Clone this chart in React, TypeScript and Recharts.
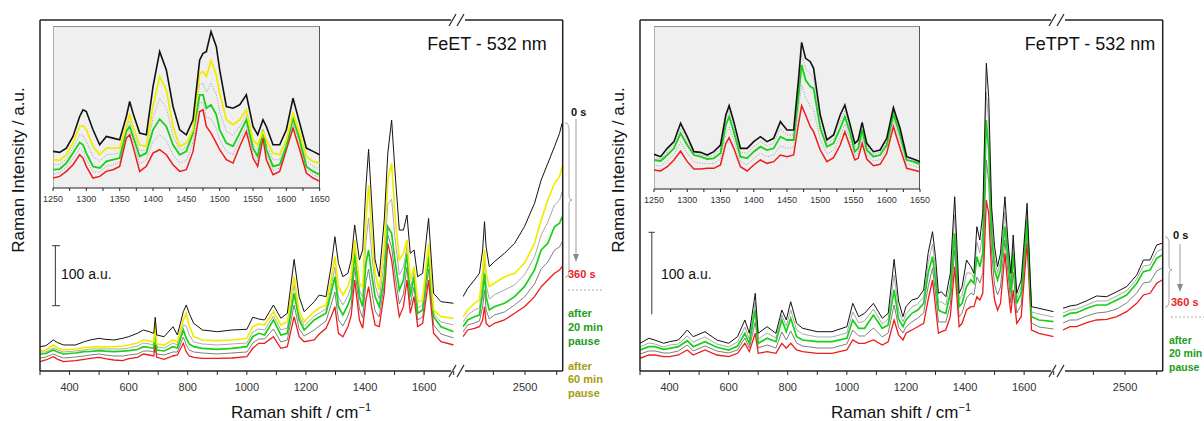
import React from 'react';
import { LineChart, Line, XAxis, YAxis, ReferenceLine } from 'recharts';

const FONT = '"Liberation Sans", Arial, Helvetica, sans-serif';

// ---- FeET, 300-1700 cm-1 (intensity in plot units, 100 a.u. = 60) ----
const feetLowX = [300, 320, 345, 360, 380, 420, 450, 470, 500, 520, 550, 580, 600, 630, 650, 670, 685, 690, 695, 720, 750, 765, 785, 795, 805, 820, 850, 900, 950, 1000, 1020, 1040, 1060, 1090, 1115, 1137, 1160, 1177, 1194, 1228, 1245, 1268, 1285, 1298, 1310, 1325, 1342, 1353, 1365, 1381, 1392, 1403, 1412, 1422, 1434, 1448, 1465, 1477, 1490, 1501, 1516, 1530, 1542, 1553, 1566, 1578, 1595, 1615, 1632, 1657, 1700];
const feetLowBlack = [24.3, 25.3, 31, 28.3, 26, 26, 29.3, 31, 32.7, 31.7, 31, 32.7, 34.3, 37.7, 41, 39.3, 37.7, 53.7, 36, 34.3, 44.3, 36, 59.3, 66, 57.7, 47.7, 41, 39.3, 41, 41.7, 53.7, 52, 51, 66, 52.7, 57.7, 111.7, 74.3, 59.3, 69.3, 76, 74.3, 104.3, 134.3, 107.7, 94.3, 97.7, 111, 146, 111, 121, 184.3, 221.7, 171, 111, 94.3, 151, 217.7, 251, 201, 141, 141, 156, 117.7, 121, 94.3, 97.7, 152.7, 77.7, 69.3, 67.7];
const feetLowYellow = [20.3, 21, 26, 23, 21, 22, 23.3, 24, 24.3, 24, 24.3, 25, 26, 28, 31, 30, 29.3, 47.7, 27, 26, 31, 29, 51, 57.7, 45, 34.3, 31, 30.3, 31, 32.7, 44.3, 47, 46, 59.3, 46, 49.3, 94.3, 59.3, 49.3, 59.3, 63, 66, 91, 114.3, 84.3, 76, 84.3, 95, 131, 87.7, 84.3, 151, 186, 141, 97.7, 81, 124.3, 191, 207.7, 157.7, 111, 117.7, 131, 91, 104.3, 69.3, 71, 127.7, 61, 54.3, 52.7];
const feetLowGreen = [17, 17.5, 21, 19, 17, 18, 19.3, 19.5, 20.3, 19.8, 19.3, 19.8, 20.3, 21.5, 24.3, 23.5, 22.7, 41, 21, 20, 24.3, 23, 41, 32.7, 27, 24.3, 22.7, 21.7, 22.7, 24.3, 34.3, 37.7, 36, 51, 36, 37.7, 77.7, 51, 41, 51, 54, 57.7, 77.7, 94.3, 64.3, 56, 66, 75, 117.7, 74.3, 64.3, 107.7, 121, 97.7, 74.3, 64.3, 94.3, 144.3, 137.7, 111, 81, 91, 117.7, 74.3, 94.3, 57.7, 61, 114.3, 54.3, 44.3, 39.3];
const feetLowRed = [9.3, 11, 14.3, 11.7, 9.3, 10.3, 11.7, 12.7, 13.7, 12.3, 11, 10.3, 12.3, 13.7, 17, 16, 15, 26, 13.7, 11.7, 15, 16, 27.7, 19.3, 15, 13.7, 12.7, 12.7, 13, 14.3, 22.7, 27.7, 27.7, 34.3, 22.7, 24.3, 54.3, 34.3, 29.3, 31, 37, 42.7, 54.3, 64.3, 37.7, 34.3, 44.3, 55, 91, 51, 42.7, 71, 84.3, 64.3, 46, 44.3, 77.7, 127.7, 111, 84.3, 54.3, 64.3, 91, 57.7, 74.3, 44.3, 47.7, 91, 37.7, 29.3, 26];
const feetLowGray1 = [19, 19, 23, 21, 19, 20, 21, 22, 22, 22, 22, 22, 23, 25, 28, 27, 26, 44, 24, 23, 28, 26, 46, 45, 36, 29, 27, 26, 27, 28, 39, 42, 41, 55, 41, 43, 86, 55, 45, 55, 58, 62, 84, 104, 74, 66, 75, 85, 124, 81, 74, 129, 153, 119, 86, 72, 109, 167, 172, 134, 96, 104, 124, 82, 99, 63, 66, 121, 57, 49, 46];
const feetLowGray2 = [13, 14, 17, 15, 13, 14, 15, 16, 17, 16, 15, 15, 16, 17, 20, 20, 19, 33, 17, 16, 19, 19, 34, 26, 21, 19, 18, 17, 18, 19, 28, 32, 32, 42, 29, 31, 66, 42, 35, 41, 45, 50, 66, 79, 51, 45, 55, 65, 104, 62, 53, 89, 102, 81, 60, 54, 86, 136, 124, 97, 67, 77, 104, 66, 84, 51, 54, 102, 46, 37, 33];

// ---- FeET, high wavenumber part ----
const feetHighX = [2304, 2319, 2340, 2356, 2366, 2372, 2377, 2387, 2403, 2435, 2467, 2498, 2530, 2551, 2572, 2593, 2609, 2617];
const feetHighBlack = [74.3, 82.7, 91, 97.7, 121, 149.3, 124.3, 104.3, 109.3, 117.7, 127.7, 144.3, 167.7, 191, 207.7, 224.3, 237.7, 247.7];
const feetHighYellow = [54.3, 61, 67.7, 71, 101, 121, 97.7, 84.3, 87.7, 94.3, 97.7, 107.7, 127.7, 151, 171, 187.7, 194.3, 204.3];
const feetHighGreen = [44.3, 51, 54.3, 56, 77.7, 97.7, 74.3, 61, 64.3, 67.7, 74.3, 84.3, 101, 121, 127.7, 144.3, 147.7, 154.3];
const feetHighRed = [34.3, 41, 42.7, 44.3, 51, 64.3, 47.7, 44.3, 47.7, 51, 57.7, 64.3, 74.3, 84.3, 91, 97.7, 101, 104.3];
const feetHighGray1 = [49, 56, 61, 63, 89, 109, 86, 72, 76, 81, 86, 96, 114, 136, 149, 166, 171, 179];
const feetHighGray2 = [39, 46, 48, 50, 64, 81, 61, 52, 56, 59, 66, 74, 87, 102, 109, 121, 124, 129];

// ---- FeET inset, 1250-1650 ----
const feetInsetX = [1250, 1260, 1270, 1280, 1290, 1295, 1300, 1310, 1320, 1330, 1340, 1350, 1360, 1365, 1370, 1380, 1390, 1400, 1410, 1420, 1430, 1440, 1450, 1460, 1470, 1475, 1480, 1487, 1495, 1500, 1510, 1520, 1530, 1540, 1550, 1557, 1565, 1570, 1580, 1590, 1600, 1610, 1620, 1630, 1640, 1650];
const feetInsetBlack = [110, 107, 120, 155, 215, 235, 230, 175, 130, 155, 150, 145, 215, 260, 225, 165, 160, 305, 410, 355, 245, 175, 160, 205, 385, 405, 410, 470, 425, 355, 245, 240, 250, 280, 185, 160, 205, 185, 130, 130, 175, 270, 195, 120, 110, 100];
const feetInsetYellow = [85, 83, 100, 135, 185, 187, 175, 125, 100, 120, 120, 120, 185, 220, 185, 130, 125, 245, 335, 295, 185, 125, 135, 175, 345, 350, 335, 383, 340, 285, 205, 190, 205, 235, 145, 130, 170, 145, 105, 100, 145, 225, 165, 95, 80, 75];
const feetInsetGreen = [55, 57, 75, 105, 137, 130, 105, 65, 60, 80, 85, 90, 170, 185, 155, 95, 105, 175, 207, 185, 130, 100, 110, 165, 280, 280, 240, 250, 220, 175, 135, 125, 165, 205, 120, 95, 175, 115, 65, 70, 125, 210, 145, 65, 50, 40];
const feetInsetRed = [30, 35, 50, 70, 100, 90, 65, 30, 35, 50, 55, 65, 150, 160, 125, 50, 65, 105, 115, 100, 70, 50, 55, 110, 230, 235, 185, 165, 135, 115, 85, 75, 125, 170, 90, 65, 150, 85, 40, 50, 115, 180, 115, 45, 30, 20];
const feetInsetGray1 = [70, 70, 88, 120, 160, 158, 140, 95, 80, 100, 102, 105, 178, 202, 170, 112, 115, 210, 270, 240, 158, 112, 122, 170, 312, 315, 288, 316, 280, 230, 170, 158, 185, 220, 132, 112, 172, 130, 85, 85, 135, 218, 155, 80, 65, 58];
const feetInsetGray2 = [42, 46, 62, 88, 118, 110, 85, 48, 48, 65, 70, 78, 160, 172, 140, 72, 85, 140, 160, 142, 100, 75, 82, 138, 255, 258, 212, 208, 178, 145, 110, 100, 145, 188, 105, 80, 162, 100, 52, 60, 120, 195, 130, 55, 40, 30];

// ---- FeTPT, 300-1700 cm-1 (100 a.u. = 82) ----
const fetptLowX = [300, 330, 350, 380, 400, 430, 460, 480, 520, 560, 600, 630, 655, 670, 690, 700, 730, 760, 780, 795, 810, 830, 850, 900, 950, 1000, 1020, 1040, 1060, 1090, 1120, 1140, 1160, 1175, 1190, 1200, 1220, 1240, 1260, 1275, 1290, 1300, 1310, 1320, 1335, 1350, 1365, 1380, 1390, 1405, 1420, 1430, 1440, 1450, 1460, 1472, 1480, 1490, 1500, 1510, 1520, 1535, 1545, 1555, 1563, 1575, 1590, 1610, 1625, 1650, 1700];
const fetptLowBlack = [27.7, 32.7, 31, 27.7, 29.3, 31, 41, 34.3, 39.3, 31, 27.7, 34.3, 51, 37.7, 77.7, 37.7, 44.3, 37.7, 61, 51, 69.3, 47.7, 42.7, 39.3, 39.3, 44.3, 67.7, 54.3, 57.7, 67.7, 52.7, 57.7, 111.7, 70, 54.3, 64.3, 71, 72.7, 81, 117.7, 139.3, 114.3, 77.7, 79.3, 74.3, 97.7, 174.3, 77.7, 84.3, 111, 104.3, 97.7, 144.3, 131, 157.7, 307.7, 274.3, 164.3, 124.3, 104.3, 117.7, 174.3, 131, 97.7, 136, 77.7, 91, 167.7, 64.3, 62.7, 59.3];
const fetptLowGreen = [21, 24.3, 24.3, 21.7, 22.7, 24.3, 30.3, 24.3, 29.3, 23.7, 21, 25, 37.7, 27.7, 61, 27.7, 32.7, 29.3, 51, 39.3, 52.7, 34.3, 31, 29.3, 29.3, 32.7, 51, 42.7, 42.7, 56, 42.7, 46, 81, 52, 44.3, 51, 57.7, 61, 67.7, 97.7, 114.3, 91, 61, 59.3, 57.7, 77.7, 137.7, 64.3, 67.7, 84.3, 91, 87.7, 114.3, 104.3, 117.7, 251, 221, 137.7, 101, 91, 101, 144.3, 114.3, 77.7, 117.7, 67.7, 77.7, 151, 54.3, 51, 49.3];
const fetptLowRed = [12.7, 16, 16, 14.3, 14.3, 16, 21, 16, 21, 16, 14.3, 17.7, 27.7, 19.3, 37.7, 17.7, 19.3, 17.7, 27.7, 22.7, 27.7, 21, 19.3, 17.7, 17.7, 21, 31, 27.7, 27.7, 31, 26, 29.3, 51, 36, 31, 37.7, 41, 44.3, 47.7, 71, 91, 64.3, 37.7, 39.3, 41, 54.3, 104.3, 44.3, 47.7, 61, 64.3, 64.3, 74.3, 71, 77.7, 171, 157.7, 97.7, 71, 61, 67.7, 117.7, 84.3, 57.7, 81, 47.7, 54.3, 127.7, 41, 37.7, 34.3];
const fetptLowGray1 = [24, 28, 27, 24, 26, 27, 35, 29, 34, 27, 24, 29, 44, 32, 69, 32, 38, 33, 56, 45, 61, 41, 37, 34, 34, 38, 59, 48, 50, 62, 47, 52, 96, 61, 49, 57, 64, 67, 74, 108, 127, 102, 69, 69, 66, 88, 156, 71, 76, 98, 98, 93, 129, 118, 138, 279, 248, 151, 113, 98, 109, 159, 123, 88, 127, 73, 84, 159, 59, 57, 54];
const fetptLowGray2 = [17, 20, 20, 18, 18, 20, 26, 20, 25, 20, 18, 21, 33, 23, 49, 23, 26, 23, 39, 31, 40, 28, 25, 23, 23, 27, 41, 35, 35, 43, 34, 38, 66, 44, 38, 44, 49, 53, 58, 84, 103, 78, 49, 49, 49, 66, 121, 54, 58, 73, 78, 76, 94, 88, 98, 211, 189, 118, 86, 76, 84, 131, 99, 68, 99, 58, 66, 139, 48, 44, 42];

// ---- FeTPT, high wavenumber part ----
const fetptHighX = [2304, 2326, 2347, 2379, 2410, 2442, 2474, 2505, 2537, 2558, 2579, 2600, 2617];
const fetptHighBlack = [62.7, 65, 66, 70.3, 75, 74.3, 79.3, 84.3, 96, 111, 111, 126, 127.7];
const fetptHighGreen = [54.3, 57.7, 58.3, 62.7, 66, 66, 71, 76, 87.7, 99.3, 101, 112.7, 116];
const fetptHighRed = [41, 44.3, 44.3, 48.3, 51, 51.7, 54.3, 59.3, 67.7, 76, 77.7, 87.7, 91];
const fetptHighGray1 = [58, 61, 62, 66, 70, 70, 75, 80, 92, 105, 106, 119, 122];
const fetptHighGray2 = [48, 51, 51, 55, 58, 59, 62, 68, 78, 88, 89, 100, 103];

// ---- FeTPT inset ----
const fetptInsetX = [1250, 1260, 1270, 1280, 1290, 1300, 1310, 1320, 1330, 1340, 1350, 1358, 1363, 1370, 1380, 1390, 1400, 1410, 1420, 1430, 1440, 1450, 1460, 1467, 1472, 1478, 1485, 1490, 1500, 1510, 1520, 1530, 1537, 1545, 1552, 1557, 1563, 1570, 1580, 1590, 1600, 1610, 1620, 1630, 1640, 1650];
const fetptInsetBlack = [104, 97, 122, 142, 197, 157, 112, 110, 102, 112, 132, 222, 250, 202, 122, 122, 142, 157, 142, 152, 202, 177, 177, 322, 440, 392, 382, 362, 222, 147, 162, 222, 252, 192, 137, 147, 200, 137, 112, 117, 152, 244, 182, 97, 90, 82];
const fetptInsetGreen = [87, 84, 102, 122, 167, 132, 102, 97, 90, 92, 107, 192, 217, 172, 97, 92, 112, 127, 117, 122, 157, 147, 147, 272, 372, 327, 307, 302, 182, 127, 137, 182, 217, 167, 112, 122, 177, 117, 97, 102, 132, 224, 162, 87, 82, 74];
const fetptInsetRed = [57, 54, 67, 87, 114, 82, 60, 60, 62, 62, 72, 137, 154, 122, 67, 54, 72, 87, 77, 82, 102, 97, 102, 192, 250, 222, 187, 172, 117, 82, 94, 132, 172, 127, 87, 92, 137, 90, 70, 74, 107, 187, 122, 62, 57, 52];
const fetptInsetGray1 = [95, 90, 112, 132, 182, 145, 107, 103, 96, 102, 120, 207, 233, 187, 110, 107, 127, 142, 130, 137, 180, 162, 162, 297, 406, 360, 345, 332, 202, 137, 150, 202, 235, 180, 125, 135, 188, 127, 105, 110, 142, 234, 172, 92, 86, 78];
const fetptInsetGray2 = [72, 69, 84, 104, 140, 107, 81, 78, 76, 77, 90, 165, 185, 147, 82, 73, 92, 107, 97, 102, 130, 122, 125, 232, 311, 275, 247, 237, 150, 105, 116, 157, 195, 147, 100, 107, 157, 104, 84, 88, 120, 206, 142, 75, 70, 63];

const lowTicks = [300, 400, 500, 600, 700, 800, 900, 1000, 1100, 1200, 1300, 1400, 1500, 1600, 1700];
const lowLabels = [400, 600, 800, 1000, 1200, 1400, 1600];
const highTicks = [2400, 2500, 2600];
const highLabels = [2500];
const insetTicks = [1250, 1275, 1300, 1325, 1350, 1375, 1400, 1425, 1450, 1475, 1500, 1525, 1550, 1575, 1600, 1625, 1650];
const insetLabels = [1250, 1300, 1350, 1400, 1450, 1500, 1550, 1600, 1650];

function table(x: number[], cols: Record<string, number[]>) {
  return x.map((w, i) => {
    const row: any = { w };
    Object.keys(cols).forEach((k) => (row[k] = cols[k][i]));
    return row;
  });
}

const feetLow = table(feetLowX, { g1: feetLowGray1, g2: feetLowGray2, red: feetLowRed, green: feetLowGreen, yellow: feetLowYellow, black: feetLowBlack });
const feetHigh = table(feetHighX, { g1: feetHighGray1, g2: feetHighGray2, red: feetHighRed, green: feetHighGreen, yellow: feetHighYellow, black: feetHighBlack });
const feetInset = table(feetInsetX, { g1: feetInsetGray1, g2: feetInsetGray2, red: feetInsetRed, green: feetInsetGreen, yellow: feetInsetYellow, black: feetInsetBlack });
const fetptLow = table(fetptLowX, { g1: fetptLowGray1, g2: fetptLowGray2, red: fetptLowRed, green: fetptLowGreen, black: fetptLowBlack });
const fetptHigh = table(fetptHighX, { g1: fetptHighGray1, g2: fetptHighGray2, red: fetptHighRed, green: fetptHighGreen, black: fetptHighBlack });
const fetptInset = table(fetptInsetX, { g1: fetptInsetGray1, g2: fetptInsetGray2, red: fetptInsetRed, green: fetptInsetGreen, black: fetptInsetBlack });

const mainStyles = [
  { key: 'g1', color: '#a8a8a8', width: 1, dash: undefined },
  { key: 'g2', color: '#7c7c7c', width: 1, dash: undefined },
  { key: 'red', color: '#ee1c1c', width: 1.3, dash: undefined },
  { key: 'green', color: '#18d018', width: 1.7, dash: undefined },
  { key: 'yellow', color: '#f0ec00', width: 1.7, dash: undefined },
  { key: 'black', color: '#111111', width: 1, dash: undefined },
];
const insetStyles = [
  { key: 'g1', color: '#8a8a8a', width: 0.8, dash: '1 1.5' },
  { key: 'g2', color: '#8a8a8a', width: 0.8, dash: '1 1.5' },
  { key: 'red', color: '#ee1c1c', width: 1.5, dash: undefined },
  { key: 'green', color: '#18d018', width: 1.8, dash: undefined },
  { key: 'yellow', color: '#f0ec00', width: 1.8, dash: undefined },
  { key: 'black', color: '#111111', width: 1.6, dash: undefined },
];

function Part({ left, top, width, height, data, domain, yMax, ticks, labels, styles, inset, children }: any) {
  const axisH = inset ? 20 : 30;
  return (
    <div style={{ position: 'absolute', left, top, width, height: height + axisH }}>
      <LineChart width={width} height={height + axisH} data={data} margin={{ top: 0, right: 0, bottom: 0, left: 0 }}>
        <XAxis
          dataKey="w"
          type="number"
          domain={domain}
          allowDataOverflow
          ticks={ticks}
          interval={0}
          tickFormatter={(v: number) => (labels.includes(v) ? String(v) : '')}
          axisLine={inset ? { stroke: '#222' } : false}
          stroke="#222"
          tickSize={inset ? 3 : 4}
          tickMargin={inset ? 5 : 8}
          height={axisH}
          tick={{ fontSize: inset ? 9 : 11, fill: '#333', fontFamily: FONT }}
        />
        <YAxis hide type="number" domain={[0, yMax]} allowDataOverflow />
        {styles
          .filter((s: any) => s.key in data[0])
          .map((s: any) => (
            <Line
              key={s.key}
              type="linear"
              dataKey={s.key}
              stroke={s.color}
              strokeWidth={s.width}
              strokeDasharray={s.dash}
              dot={false}
              isAnimationActive={false}
            />
          ))}
        {children}
      </LineChart>
    </div>
  );
}

function Frame({ dx }: { dx: number }) {
  const l = 40 + dx, r = 562.7 + dx, t = 20, b = 371;
  const g0 = 451 + dx, g1 = 465 + dx;
  const slashes = (y: number) => (
    <g stroke="#222" strokeWidth={1.2}>
      <line x1={g0 - 2} y1={y + 6} x2={g0 + 5} y2={y - 6} />
      <line x1={g0 + 6} y1={y + 6} x2={g0 + 13} y2={y - 6} />
    </g>
  );
  return (
    <g>
      <g stroke="#222" strokeWidth={1.5} fill="none">
        <line x1={l} y1={t} x2={l} y2={b} />
        <line x1={r} y1={t} x2={r} y2={b} />
        <line x1={l} y1={t} x2={g0} y2={t} />
        <line x1={g1} y1={t} x2={r} y2={t} />
        <line x1={l} y1={b} x2={g0} y2={b} />
        <line x1={g1} y1={b} x2={r} y2={b} />
      </g>
      {slashes(t)}
      {slashes(b)}
      <text transform={`translate(${18 + dx},170) rotate(-90)`} textAnchor="middle" dominantBaseline="central" fontSize={17} fill="#111">
        Raman Intensity / a.u.
      </text>
      <text x={301 + dx} y={418} textAnchor="middle" fontSize={17} fill="#111">
        Raman shift / cm<tspan fontSize={11} dy={-7}>−1</tspan>
      </text>
      <text x={61 + dx} y={279} fontSize={14} fill="#111">100 a.u.</text>
    </g>
  );
}

function Brace({ x, y0, y1, ym }: { x: number; y0: number; y1: number; ym: number }) {
  const d = `M${x},${y0} Q${x + 4},${y0} ${x + 4},${y0 + 6} L${x + 4},${ym - 5} Q${x + 4},${ym} ${x + 7},${ym} Q${x + 4},${ym} ${x + 4},${ym + 5} L${x + 4},${y1 - 6} Q${x + 4},${y1} ${x},${y1}`;
  return <path d={d} fill="none" stroke="#9a9a9a" strokeWidth={0.9} />;
}

function Arrow({ x, y0, y1 }: { x: number; y0: number; y1: number }) {
  return (
    <g>
      <line x1={x} y1={y0} x2={x} y2={y1 - 6} stroke="#9a9a9a" strokeWidth={1} />
      <polygon points={`${x - 3},${y1 - 8} ${x + 3},${y1 - 8} ${x},${y1}`} fill="#8a8a8a" />
    </g>
  );
}

const RED = '#e8232a';
const GREEN = '#1c9c1c';
const OLIVE = '#a39c12';

function Decor() {
  const b = { fontSize: 11, fontWeight: 700 } as const;
  const bs = { fontSize: 10.5, fontWeight: 700 } as const;
  return (
    <svg width={1204} height={421} style={{ position: 'absolute', left: 0, top: 0, pointerEvents: 'none', fontFamily: FONT }}>
      <Frame dx={0} />
      <Frame dx={600} />
      <text x={487} y={50} textAnchor="middle" fontSize={18} fill="#111">FeET - 532 nm</text>
      <text x={1090} y={50} textAnchor="middle" fontSize={18} fill="#111">FeTPT - 532 nm</text>

      <Brace x={565} y0={123} y1={277} ym={200} />
      <Arrow x={576} y0={119} y1={262} />
      <text x={571} y={116} {...b} fill="#111">0 s</text>
      <text x={568} y={278} {...b} fill={RED}>360 s</text>
      <line x1={568} y1={290} x2={602} y2={290} stroke="#aaa" strokeDasharray="2 2" />
      <text x={568} y={317} {...b} fill={GREEN}>after</text>
      <text x={568} y={331} {...b} fill={GREEN}>20 min</text>
      <text x={568} y={345} {...b} fill={GREEN}>pause</text>
      <text x={568} y={370} {...b} fill={OLIVE}>after</text>
      <text x={568} y={383} {...b} fill={OLIVE}>60 min</text>
      <text x={568} y={397} {...b} fill={OLIVE}>pause</text>

      <Brace x={1165} y0={237} y1={307} ym={270} />
      <Arrow x={1180} y0={244} y1={292} />
      <text x={1173} y={239} {...b} fill="#111">0 s</text>
      <text x={1171} y={306} {...b} fill={RED}>360 s</text>
      <line x1={1171} y1={317} x2={1204} y2={317} stroke="#aaa" strokeDasharray="2 2" />
      <text x={1169} y={344} {...bs} fill={GREEN}>after</text>
      <text x={1169} y={357} {...bs} fill={GREEN}>20 min</text>
      <text x={1169} y={371} {...bs} fill={GREEN}>pause</text>
    </svg>
  );
}

function ScaleBar({ x, y, len, tickL, tickR, bottomTick }: any) {
  return (
    <>
      <ReferenceLine segment={[{ x, y }, { x, y: y + len }]} stroke="#333" strokeWidth={1} ifOverflow="visible" />
      <ReferenceLine segment={[{ x: tickL, y: y + len }, { x: tickR, y: y + len }]} stroke="#333" strokeWidth={1} ifOverflow="visible" />
      {bottomTick && (
        <ReferenceLine segment={[{ x: tickL, y }, { x: tickR, y }]} stroke="#333" strokeWidth={1} ifOverflow="visible" />
      )}
    </>
  );
}

function InsetBox({ left, top, width, height }: any) {
  return (
    <div
      style={{
        position: 'absolute',
        left,
        top,
        width,
        height,
        boxSizing: 'border-box',
        background: '#efefef',
        borderTop: '1px solid #8a8a8a',
        borderLeft: '1px solid #b0b0b0',
        borderRight: '1px solid #555',
      }}
    />
  );
}

export default function App() {
  return (
    <div style={{ position: 'absolute', left: 0, top: 0, width: 1204, height: 421, background: '#fff', fontFamily: FONT, overflow: 'hidden' }}>
      <style>{'.recharts-surface{overflow:visible}'}</style>

      {/* FeET */}
      <Part left={40} top={20} width={413.7} height={351} data={feetLow} domain={[300, 1700]} yMax={351} ticks={lowTicks} labels={lowLabels} styles={mainStyles}>
        {ScaleBar({ x: 352, y: 65.3, len: 60, tickL: 341, tickR: 368, bottomTick: true })}
      </Part>
      <Part left={463.3} top={20} width={99.4} height={351} data={feetHigh} domain={[2304, 2618]} yMax={351} ticks={highTicks} labels={highLabels} styles={mainStyles} />
      <InsetBox left={53.3} top={26} width={266.7} height={162} />
      <Part left={53.3} top={26} width={266.7} height={162} data={feetInset} domain={[1250, 1650]} yMax={487} ticks={insetTicks} labels={insetLabels} styles={insetStyles} inset />

      {/* FeTPT */}
      <Part left={640} top={20} width={413.7} height={351} data={fetptLow} domain={[300, 1700]} yMax={351} ticks={lowTicks} labels={lowLabels} styles={mainStyles}>
        {ScaleBar({ x: 340, y: 56.7, len: 82, tickL: 329, tickR: 350, bottomTick: false })}
      </Part>
      <Part left={1063.3} top={20} width={99.4} height={351} data={fetptHigh} domain={[2304, 2618]} yMax={351} ticks={highTicks} labels={highLabels} styles={mainStyles} />
      <InsetBox left={654} top={26} width={266} height={163} />
      <Part left={654} top={26} width={266} height={163} data={fetptInset} domain={[1250, 1650]} yMax={489} ticks={insetTicks} labels={insetLabels} styles={insetStyles} inset />

      <Decor />
    </div>
  );
}
